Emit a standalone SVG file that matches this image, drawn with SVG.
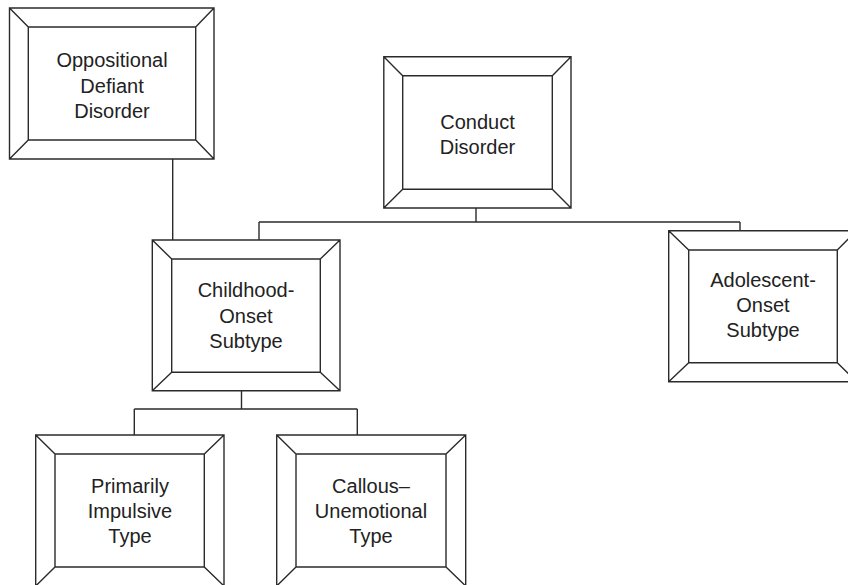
<svg xmlns="http://www.w3.org/2000/svg" width="848" height="585" viewBox="0 0 848 585">
  <style>
    .frame { fill: none; stroke: #2b2b2b; stroke-width: 1.4; stroke-linejoin: miter; }
    .link { fill: none; stroke: #2b2b2b; stroke-width: 1.4; }
    .label { font-family: "Liberation Sans", Arial, sans-serif; font-size: 20px; fill: #222; text-anchor: middle; }
  </style>
  <rect width="848" height="585" fill="#ffffff"/>

  <!-- connectors -->
  <g id="connectors" class="link">
    <path d="M172.7,159 V240"/>
    <path d="M476,208 V222 M259,222 H740 M259,222 V240 M740,222 V231"/>
    <path d="M241.5,391 V409 M134.3,409 H357.3 M134.3,409 V435 M357.3,409 V435"/>
  </g>

  <!-- Oppositional Defiant Disorder -->
  <g id="odd">
    <path class="frame" d="M9.5,8 H214 V159 H9.5 Z M28.3,27 H195.7 V140 H28.3 Z M9.5,8 L28.3,27 M214,8 L195.7,27 M214,159 L195.7,140 M9.5,159 L28.3,140"/>
    <text class="label" x="112" y="67">Oppositional</text>
    <text class="label" x="112" y="93">Defiant</text>
    <text class="label" x="112" y="118">Disorder</text>
  </g>

  <!-- Conduct Disorder -->
  <g id="conduct">
    <path class="frame" d="M383.8,56.7 H571 V208 H383.8 Z M402.7,75.7 H552.3 V189.3 H402.7 Z M383.8,56.7 L402.7,75.7 M571,56.7 L552.3,75.7 M571,208 L552.3,189.3 M383.8,208 L402.7,189.3"/>
    <text class="label" x="477.5" y="128.5">Conduct</text>
    <text class="label" x="477.5" y="153.5">Disorder</text>
  </g>

  <!-- Childhood-Onset Subtype -->
  <g id="childhood">
    <path class="frame" d="M152.3,240 H340 V390.7 H152.3 Z M171.7,259 H320.3 V372.3 H171.7 Z M152.3,240 L171.7,259 M340,240 L320.3,259 M340,390.7 L320.3,372.3 M152.3,390.7 L171.7,372.3"/>
    <text class="label" x="246" y="297">Childhood-</text>
    <text class="label" x="246" y="323">Onset</text>
    <text class="label" x="246" y="348">Subtype</text>
  </g>

  <!-- Adolescent-Onset Subtype -->
  <g id="adolescent">
    <path class="frame" d="M668.7,230.7 H856.5 V381.7 H668.7 Z M688.7,250 H837.3 V362.7 H688.7 Z M668.7,230.7 L688.7,250 M856.5,230.7 L837.3,250 M856.5,381.7 L837.3,362.7 M668.7,381.7 L688.7,362.7"/>
    <text class="label" x="763" y="287">Adolescent-</text>
    <text class="label" x="763" y="312">Onset</text>
    <text class="label" x="763" y="337">Subtype</text>
  </g>

  <!-- Primarily Impulsive Type -->
  <g id="impulsive">
    <path class="frame" d="M35.7,435 H224 V586 H35.7 Z M55,454 H204.3 V567 H55 Z M35.7,435 L55,454 M224,435 L204.3,454 M224,586 L204.3,567 M35.7,586 L55,567"/>
    <text class="label" x="130" y="493">Primarily</text>
    <text class="label" x="130" y="518">Impulsive</text>
    <text class="label" x="130" y="543">Type</text>
  </g>

  <!-- Callous-Unemotional Type -->
  <g id="callous">
    <path class="frame" d="M276.7,435 H465.7 V586 H276.7 Z M296,454 H446 V567 H296 Z M276.7,435 L296,454 M465.7,435 L446,454 M465.7,586 L446,567 M276.7,586 L296,567"/>
    <text class="label" x="371" y="493">Callous–</text>
    <text class="label" x="371" y="518">Unemotional</text>
    <text class="label" x="371" y="543">Type</text>
  </g>
</svg>
